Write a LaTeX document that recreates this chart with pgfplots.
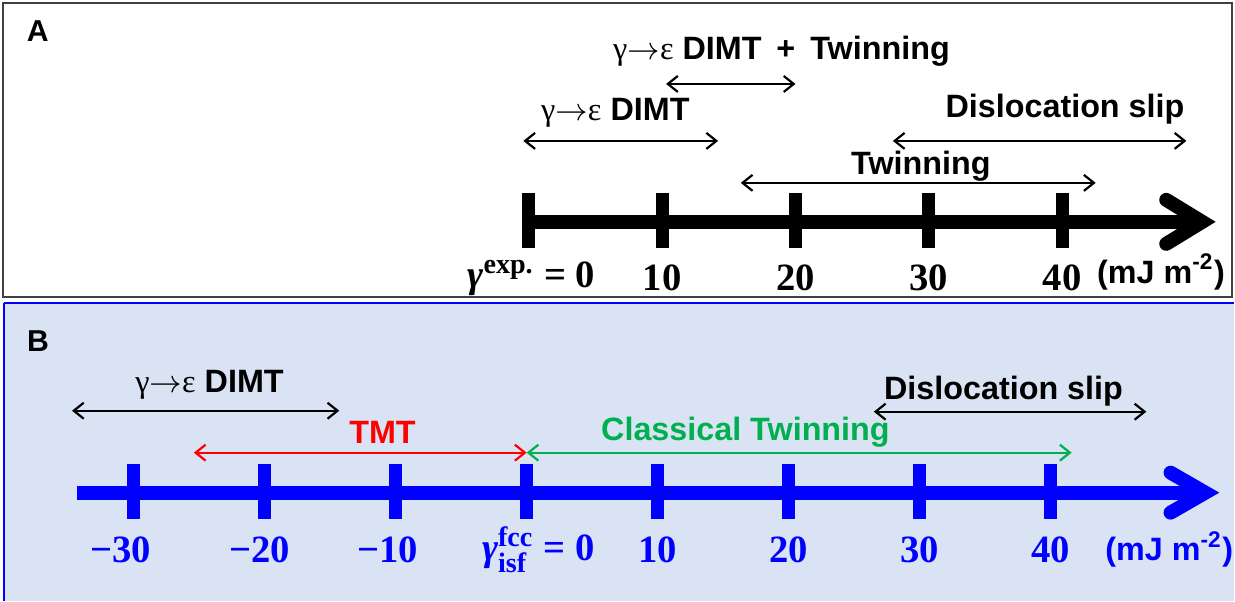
\documentclass[border=0pt]{standalone}
\usepackage{pgfplots}
\pgfplotsset{compat=1.18}
\usepackage{fontspec}
\setmainfont{Liberation Sans}
\newfontfamily\tnr{Liberation Serif}
\usetikzlibrary{arrows.meta}

\definecolor{panelbg}{RGB}{218,227,243}
\definecolor{panelgray}{RGB}{64,64,64}
\definecolor{mgreen}{RGB}{0,176,80}
\definecolor{mblue}{RGB}{0,0,255}
\definecolor{mred}{RGB}{255,0,0}

\tikzset{
  rng/.style={line width=0.022cm, <->, >={Straight Barb[length=0.1cm,width=0.16cm]}},
  lbl/.style={font=\fontsize{9.2}{11}\selectfont\bfseries, inner sep=0pt},
  num/.style={font=\fontsize{11}{13}\selectfont\tnr\bfseries, inner sep=0pt},
  panel/.style={font=\fontsize{8.6}{10}\selectfont\bfseries, inner sep=0pt},
}
\newcommand{\gtoe}{{\tnr\mdseries γ$\rightarrow$ε}}
\newcommand{\scr}[1]{\mbox{\fontsize{8}{9}\selectfont #1}}

\begin{document}
\begin{tikzpicture}
% page frame
\path (0,0) rectangle (12.35,6.01);

% ---------------- Panel A: experimental SFE scale ----------------
\begin{scope}[shift={(0.03,3.04)}]
\begin{axis}[
  at={(0,0)}, anchor=south west,
  scale only axis, width=12.30cm, height=2.94cm,
  xmin=-39.40, xmax=52.73, ymin=0, ymax=294,
  xtick=\empty, ytick=\empty,
  axis line style={draw=panelgray, line width=0.022cm},
  clip=false,
]
% number line with open arrow head
\addplot[black, line width=0.14cm, line cap=butt] coordinates {(0,75) (50.49,75)};
\addplot[black, line width=0.14cm, line cap=round, line join=miter]
  coordinates {(47.79,97) (50.49,75) (47.79,53)};
% ticks
\addplot[black, only marks, mark=|, mark size=0.275cm, mark options={line width=0.13cm}]
  coordinates {(0,76.5) (10,76.5) (20,76.5) (30,76.5) (40,76.5)};
% deformation-mechanism ranges
\addplot[black, rng] coordinates {(10.3,213) (20.0,213)};
\addplot[black, rng] coordinates {(-0.4,156) (14.2,156)};
\addplot[black, rng] coordinates {(27.3,156) (49.3,156)};
\addplot[black, rng] coordinates {(15.9,114) (42.5,114)};
% labels
\node[panel] at (axis cs:-36.8,266) {A};
\node[lbl] at (axis cs:18.95,246) {\gtoe{} DIMT\hspace{0.06cm} + \hspace{0.06cm}Twinning};
\node[lbl] at (axis cs:6.5,184) {\gtoe{} DIMT};
\node[lbl] at (axis cs:40.2,188) {Dislocation slip};
\node[lbl] at (axis cs:29.4,131) {Twinning};
\node[num] at (axis cs:0.2,19) {$\mbox{\itshape γ}^{\scr{exp.}}$ = 0};
\node[num] at (axis cs:10,19) {10};
\node[num] at (axis cs:20,19) {20};
\node[num] at (axis cs:30,19) {30};
\node[num] at (axis cs:40,19) {40};
\node[lbl] at (axis cs:47.4,25) {(mJ m\textsuperscript{-2})};
\end{axis}
\end{scope}

% ---------------- Panel B: computed intrinsic SFE scale ----------------
\begin{scope}[shift={(0.04,0)}]
\begin{axis}[
  at={(0,0)}, anchor=south west,
  scale only axis, width=12.31cm, height=2.98cm,
  xmin=-39.89, xmax=54.0, ymin=0, ymax=298,
  xtick=\empty, ytick=\empty,
  axis x line*=top, axis y line*=left,
  axis line style={draw=mblue, line width=0.018cm},
  axis background/.style={fill=panelbg},
  clip=false,
]
\addplot[mblue, line width=0.14cm, line cap=butt] coordinates {(-34.33,108) (51.8,108)};
\addplot[mblue, line width=0.14cm, line cap=round, line join=miter]
  coordinates {(49.15,128) (51.8,108) (49.15,88)};
\addplot[mblue, only marks, mark=|, mark size=0.275cm, mark options={line width=0.13cm}]
  coordinates {(-30,109.5) (-20,109.5) (-10,109.5) (0,109.5) (10,109.5) (20,109.5) (30,109.5) (40,109.5)};
% deformation-mechanism ranges
\addplot[black, rng] coordinates {(-34.7,190) (-14.3,190)};
\addplot[mred, rng] coordinates {(-25.4,148) (0,148)};
\addplot[mgreen, rng] coordinates {(0,148) (41.6,148)};
\addplot[black, rng] coordinates {(26.5,189) (47.3,189)};
% labels
\node[panel] at (axis cs:-37.3,260) {B};
\node[lbl] at (axis cs:-24.2,216) {\gtoe{} DIMT};
\node[lbl, text=mred] at (axis cs:-11.0,168) {TMT};
\node[lbl, text=mgreen] at (axis cs:16.7,168) {Classical Twinning};
\node[lbl] at (axis cs:36.4,210) {Dislocation slip};
\begin{scope}[every node/.append style={text=mblue}]
\node[num] at (axis cs:-31.0,51) {−30};
\node[num] at (axis cs:-20.4,51) {−20};
\node[num] at (axis cs:-10.6,51) {−10};
\node[num] at (axis cs:0.9,51) {$\mbox{\itshape γ}^{\scr{fcc}}_{\scr{isf}}$ = 0};
\node[num] at (axis cs:10,51) {10};
\node[num] at (axis cs:20,51) {20};
\node[num] at (axis cs:30,51) {30};
\node[num] at (axis cs:40,51) {40};
\node[lbl] at (axis cs:49.05,51) {(mJ m\textsuperscript{-2})};
\end{scope}
\end{axis}
\end{scope}
\end{tikzpicture}
\end{document}
